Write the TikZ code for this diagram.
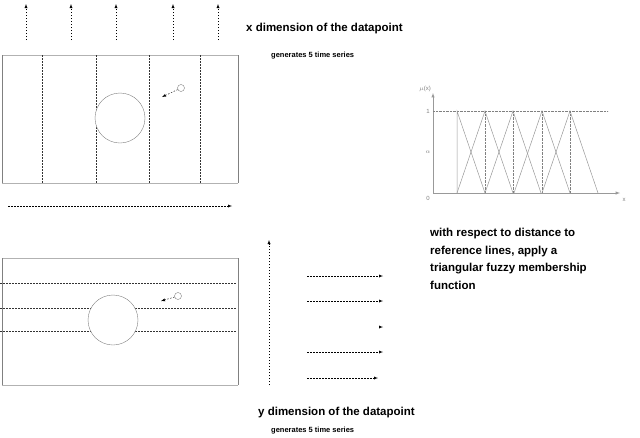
\documentclass[tikz,border=0pt]{standalone}
\usepackage{fontspec}
\setmainfont{Liberation Sans}
\begin{document}
\begin{tikzpicture}[x=1pt,y=-1pt,
 dl/.style={dash pattern=on 1.5pt off 1.5pt,thin,black!80},
 da/.style={dash pattern=on 1.5pt off 1.5pt,thin,black,-latex},
 big/.style={font=\bfseries\fontsize{11.5}{13}\selectfont,anchor=west,inner sep=0},
 small/.style={font=\bfseries\fontsize{7.5}{8}\selectfont,anchor=west,inner sep=0},
 ch/.style={gray!80,line width=0.5pt},
 tl/.style={font=\fontsize{6}{7}\selectfont,text=gray,inner sep=0}]
\useasboundingbox (0,0) rectangle (640,437);
% top panel
\draw[gray!60,thin] (2,55) -- (238,55);
\draw[gray!60,thin] (2,183) -- (238,183);
\draw[gray,line width=0.8pt] (2,55) -- (2,183) (238,55) -- (238,183);
\foreach \x in {42,96,149,200} \draw[dl] (\x,55) -- (\x,183);
\node[draw=gray,fill=white,circle,minimum size=50pt,inner sep=0] (c1) at (120,118) {};
\node[draw=gray,circle,minimum size=7pt,inner sep=0] (s1) at (181,88) {};
\draw[da] (s1) -- (162,97);
\foreach \x in {26,71,116,173,218} \draw[da] (\x,40) -- (\x,4);
\draw[da] (8,206) -- (232,206);
\node[big] (t1) at (246,29) {x dimension of the datapoint};
\node[small] (t2) at (271,56) {generates 5 time series};
% bottom panel
\draw[gray!60,thin] (2,258) -- (238,258);
\draw[gray!60,thin] (2,385) -- (238,385);
\draw[gray,line width=0.8pt] (2,258) -- (2,385) (238,258) -- (238,385);
\foreach \y in {283,308,331} \draw[dl] (0,\y) -- (236,\y);
\node[draw=gray,fill=white,circle,minimum size=50pt,inner sep=0] (c2) at (113,320) {};
\node[draw=gray,circle,minimum size=7pt,inner sep=0] (s2) at (178,296) {};
\draw[da] (s2) -- (161,301);
\draw[da] (269,385) -- (269,240);
\foreach \y in {276,301,352} \draw[da] (307,\y) -- (383,\y);
\draw[-latex,black] (380,327) -- (383,327);
\draw[da] (307,378) -- (378,378);
\node[big] (t3) at (258,413) {y dimension of the datapoint};
\node[small] (t4) at (271,431) {generates 5 time series};
% right text
\node[big,align=left,anchor=north west,font=\bfseries\fontsize{11.5}{17.5}\selectfont] (t5) at (430,228) {with respect to distance to\\reference lines, apply a\\triangular fuzzy membership\\function};
% chart
\draw[ch,-latex] (433,193) -- (433,93);
\draw[ch,-latex] (433,193) -- (620,193);
\draw[gray,densely dotted,thin] (433,111) -- (608,111);
\draw[ch] (457,193) -- (457,111) -- (485,193);
\foreach \p in {485,513,542,570}{
  \draw[ch] (\p-28,193) -- (\p,111) -- (\p+28,193);
  \draw[gray,densely dotted,thin] (\p,111) -- (\p,193);}
\node[tl] (l0) at (425,89) {$\mu$(x)};
\node[tl] (l1) at (428,111) {1};
\node[tl] (la) at (428,152) {$\alpha$};
\node[tl] (lz) at (428,198) {0};
\node[tl] (lx) at (624,200) {x};
\end{tikzpicture}
\end{document}
